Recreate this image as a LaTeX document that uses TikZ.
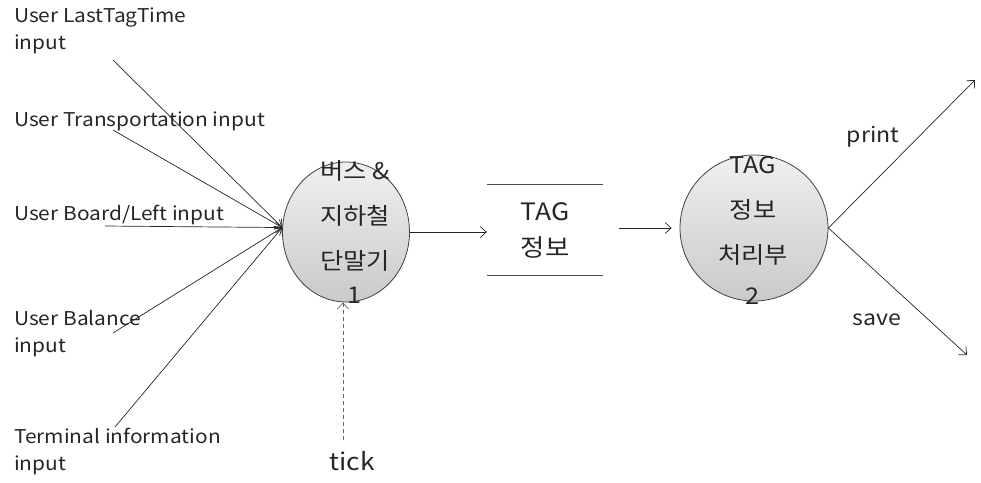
\documentclass[tikz,border=0pt]{standalone}
\usepackage{fontspec}
\newfontfamily\kr[FakeStretch=1.1]{Noto Sans CJK KR}
\usetikzlibrary{shapes.geometric,arrows.meta}
\tikzset{
  proc/.style={ellipse, draw=black!75, line width=0.8pt, inner sep=0pt,
    top color=gray!12, bottom color=gray!42},
  inlabel/.style={anchor=north west, inner sep=0pt, align=left,
    font={\kr\fontsize{19}{27}\selectfont}, text=black!85},
  proctext/.style={align=center, inner sep=0pt, text=black!85,
    font={\kr\fontsize{23}{45}\selectfont}},
  flow/.style={draw=black!85, line width=0.7pt, -{Straight Barb[length=6pt,width=11pt]}},
  storeline/.style={draw=black!70, line width=1.2pt},
  freetext/.style={inner sep=0pt, text=black!85},
}
\begin{document}
\begin{tikzpicture}[x=1pt,y=-1pt]
\useasboundingbox (0,0) rectangle (981,482);

% processes
\node[proc, minimum width=127pt, minimum height=140pt] (b1) at (346,232) {};
\node[proctext] (t1) at (355,232) {버스 \&\\지하철\\단말기\\[-11pt]1};
\node[proc, minimum width=148pt, minimum height=146pt] (b2) at (754,228) {};
\node[proctext] (t2) at (753,230) {TAG\\정보\\처리부\\[-4pt]2};

% data store
\node[minimum width=116pt, minimum height=90pt, inner sep=0pt, align=center,
      text=black!85, font={\kr\fontsize{24}{36}\selectfont}] (st) at (545,230) {TAG\\정보};
\draw[storeline] (st.north west) -- (st.north east);
\draw[storeline] (st.south west) -- (st.south east);

% input labels
\node[inlabel] (l1) at (14,8) {User LastTagTime\\input};
\node[inlabel] (l2) at (14,112) {User Transportation input};
\node[inlabel] (l3) at (14,205) {User Board/Left input};
\node[inlabel] (l4) at (14,310) {User Balance\\input};
\node[inlabel] (l5) at (14,428) {Terminal information\\input};

% free ends of the input flows
\coordinate (s1) at (113,60);
\coordinate (s2) at (113,130);
\coordinate (s3) at (105,226);
\coordinate (s4) at (113,333);
\coordinate (s5) at (115,427);

\draw[flow] (s1) -- (b1.176);
\draw[flow] (s2) -- (b1.176);
\draw[flow] (s3) -- (b1.176);
\draw[flow] (s4) -- (b1.176);
\draw[flow] (s5) -- (b1.176);

% clock tick
\node[freetext, font={\kr\fontsize{24}{27}\selectfont}] (tick) at (352,461) {tick};
\coordinate (tk) at (343,440);
\draw[flow, draw=black!60, dashed, dash pattern=on 4pt off 3pt] (tk) -- (tk |- b1.south);

% internal flows
\draw[flow] (b1.east) -- (b1.east -| st.west);
\coordinate (m2) at ([xshift=16pt]st.east);
\draw[flow, shorten >=8pt] (m2 |- b2.west) -- (b2.west);

% outputs
\coordinate (o1) at (975,80);
\coordinate (o2) at (967,355);
\draw[flow] (b2.east) -- (o1);
\draw[flow] (b2.east) -- (o2);
\node[freetext, font={\kr\fontsize{21}{27}\selectfont}] (pr) at (873,137) {print};
\node[freetext, font={\kr\fontsize{21}{27}\selectfont}] (sv) at (877,320) {save};
\end{tikzpicture}
\end{document}
